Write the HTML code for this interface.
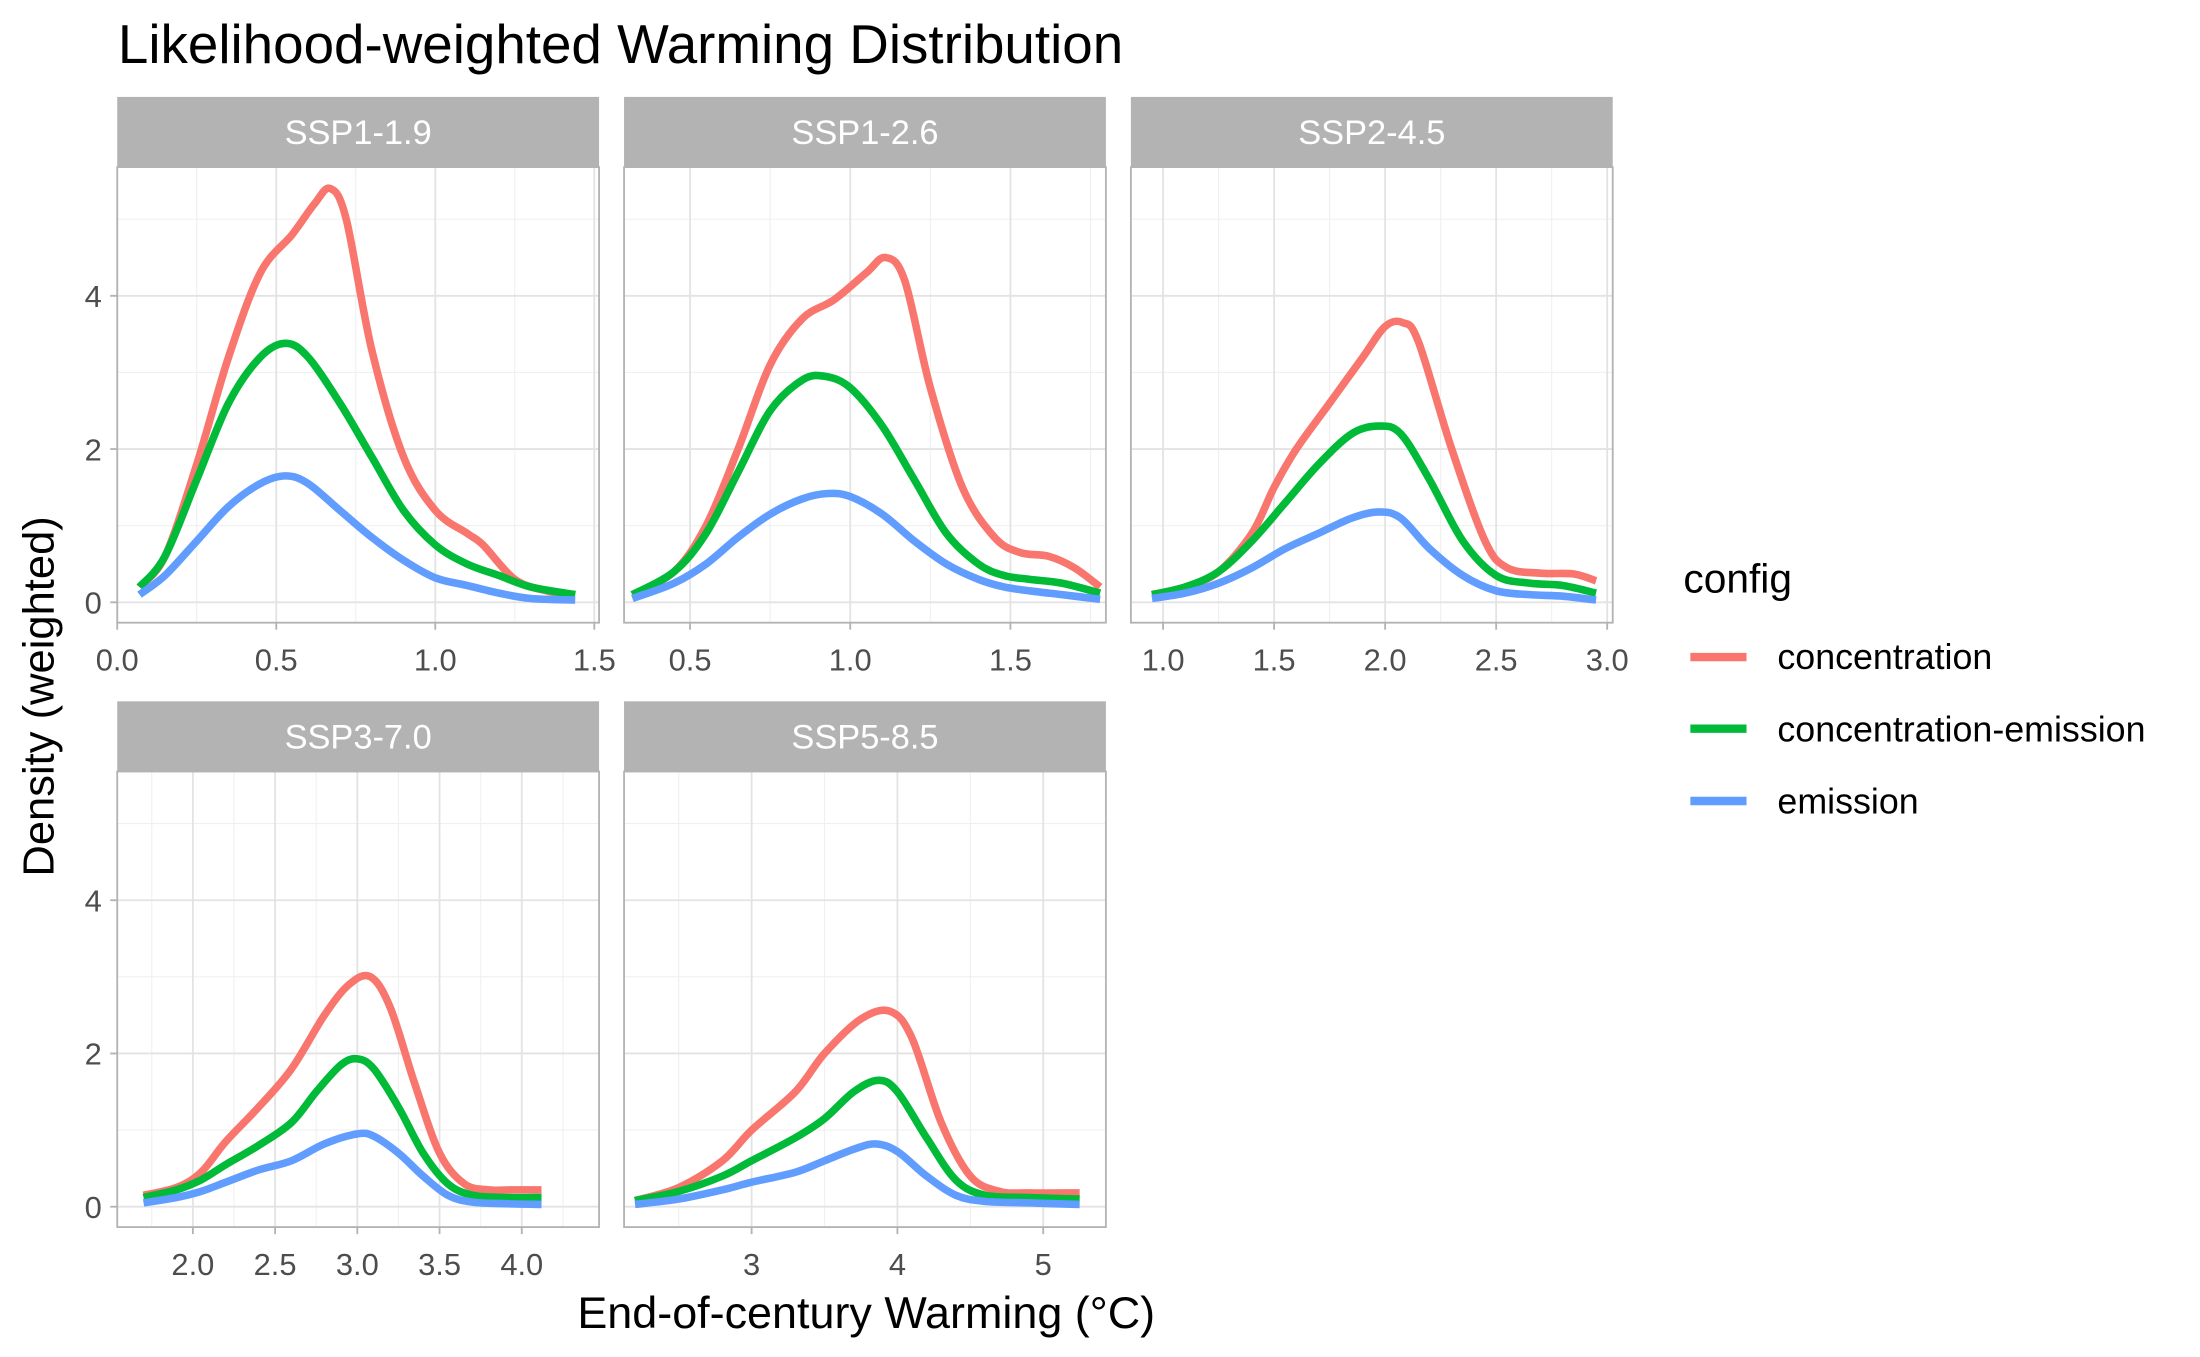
<!DOCTYPE html>
<html><head><meta charset="utf-8"><style>
html,body{margin:0;padding:0;background:#fff;}
svg{display:block;}
text{font-family:"Liberation Sans",Arial,sans-serif;}
</style></head><body>
<svg id="chart" width="2200" height="1357" viewBox="0 0 1567 966.5" xmlns="http://www.w3.org/2000/svg">
<text x="84" y="45" font-size="39" fill="#000">Likelihood-weighted Warming Distribution</text>
<text transform="translate(38,496) rotate(-90)" text-anchor="middle" font-size="31" fill="#000">Density (weighted)</text>
<text x="617" y="946" text-anchor="middle" font-size="32" fill="#000">End-of-century Warming (°C)</text>
<g>
<text x="1199" y="422" font-size="29" fill="#000">config</text>
<line x1="1204" y1="468" x2="1244" y2="468" stroke="#F8766D" stroke-width="6"/>
<text x="1266" y="476.5" font-size="25.5" fill="#000">concentration</text>
<line x1="1204" y1="519" x2="1244" y2="519" stroke="#00BA38" stroke-width="6"/>
<text x="1266" y="528" font-size="25.5" fill="#000">concentration-emission</text>
<line x1="1204" y1="570.5" x2="1244" y2="570.5" stroke="#619CFF" stroke-width="6"/>
<text x="1266" y="579.5" font-size="25.5" fill="#000">emission</text>
</g>
<g id="panels"></g>
</svg>
<script>
const panelNames = ["SSP1-1.9","SSP1-2.6","SSP2-4.5","SSP3-7.0","SSP5-8.5"];
const seriesNames = ["concentration","concentration-emission","emission"];
const xTicks = [[0.0,0.5,1.0,1.5],[0.5,1.0,1.5],[1.0,1.5,2.0,2.5,3.0],[2.0,2.5,3.0,3.5,4.0],[3,4,5]];
const xTickLabels = [["0.0","0.5","1.0","1.5"],["0.5","1.0","1.5"],["1.0","1.5","2.0","2.5","3.0"],["2.0","2.5","3.0","3.5","4.0"],["3","4","5"]];
const xDomains = [[0.0,1.515],[0.294,1.798],[0.855,3.025],[1.54,4.47],[2.125,5.43]];
const yTicks = [0,2,4];
const yTickLabels = ["0","2","4"];
const concX = [
[0.07,0.15,0.25,0.35,0.45,0.55,0.62,0.67,0.72,0.8,0.9,1.0,1.1,1.15,1.25,1.35,1.44],
[0.32,0.45,0.55,0.65,0.75,0.85,0.95,1.05,1.11,1.17,1.25,1.35,1.45,1.53,1.62,1.7,1.78],
[0.95,1.1,1.25,1.4,1.5,1.6,1.75,1.9,2.0,2.08,2.15,2.3,2.45,2.55,2.7,2.85,2.95],
[1.7,1.9,2.05,2.2,2.4,2.6,2.8,2.95,3.08,3.2,3.35,3.5,3.65,3.8,3.95,4.12],
[2.2,2.5,2.8,3.0,3.3,3.5,3.75,3.95,4.1,4.3,4.5,4.7,4.9,5.25]];
const concY = [
[0.2,0.6,1.8,3.2,4.3,4.8,5.2,5.4,5.0,3.3,1.9,1.2,0.9,0.75,0.3,0.15,0.1],
[0.1,0.4,1.0,2.0,3.1,3.7,3.95,4.3,4.5,4.2,2.8,1.5,0.85,0.65,0.6,0.45,0.2],
[0.1,0.2,0.4,0.9,1.5,2.0,2.6,3.2,3.6,3.65,3.4,2.0,0.8,0.45,0.38,0.37,0.28],
[0.15,0.25,0.45,0.85,1.3,1.8,2.5,2.9,3.0,2.6,1.6,0.7,0.3,0.22,0.22,0.22],
[0.08,0.25,0.6,1.0,1.5,2.0,2.45,2.55,2.2,1.1,0.4,0.2,0.18,0.18]];
const ceX = [
[0.07,0.15,0.25,0.35,0.45,0.53,0.6,0.7,0.8,0.9,1.0,1.1,1.2,1.3,1.44],
[0.32,0.45,0.55,0.65,0.75,0.85,0.92,1.0,1.1,1.2,1.3,1.4,1.48,1.56,1.66,1.78],
[0.95,1.1,1.25,1.4,1.55,1.7,1.85,1.97,2.07,2.2,2.35,2.5,2.65,2.8,2.95],
[1.7,1.9,2.05,2.2,2.4,2.6,2.75,2.9,3.0,3.1,3.25,3.4,3.55,3.7,3.9,4.12],
[2.2,2.5,2.8,3.0,3.3,3.5,3.7,3.87,4.0,4.2,4.4,4.6,4.9,5.25]];
const ceY = [
[0.2,0.6,1.6,2.6,3.2,3.38,3.2,2.6,1.9,1.2,0.75,0.5,0.35,0.2,0.1],
[0.1,0.4,0.9,1.7,2.5,2.9,2.95,2.8,2.3,1.6,0.9,0.5,0.35,0.3,0.25,0.12],
[0.1,0.2,0.4,0.8,1.3,1.8,2.2,2.3,2.2,1.6,0.8,0.35,0.25,0.22,0.12],
[0.12,0.22,0.35,0.55,0.8,1.1,1.5,1.85,1.93,1.8,1.3,0.7,0.3,0.15,0.12,0.12],
[0.08,0.2,0.4,0.6,0.9,1.15,1.5,1.65,1.5,0.9,0.35,0.15,0.12,0.1]];
const emX = [
[0.07,0.15,0.25,0.35,0.45,0.53,0.6,0.7,0.8,0.9,1.0,1.1,1.2,1.3,1.44],
[0.32,0.45,0.55,0.65,0.75,0.85,0.93,1.0,1.1,1.2,1.3,1.4,1.48,1.56,1.66,1.78],
[0.95,1.1,1.25,1.4,1.55,1.7,1.85,1.97,2.07,2.2,2.35,2.5,2.65,2.8,2.95],
[1.7,1.9,2.05,2.2,2.4,2.6,2.8,3.0,3.1,3.25,3.4,3.55,3.7,3.9,4.12],
[2.2,2.5,2.8,3.0,3.3,3.5,3.7,3.85,4.0,4.2,4.4,4.6,4.9,5.25]];
const emY = [
[0.1,0.35,0.8,1.25,1.55,1.65,1.55,1.2,0.85,0.55,0.32,0.22,0.12,0.05,0.03],
[0.05,0.25,0.5,0.85,1.15,1.35,1.42,1.38,1.15,0.8,0.5,0.3,0.2,0.15,0.1,0.04],
[0.05,0.12,0.25,0.45,0.7,0.9,1.1,1.18,1.1,0.7,0.35,0.15,0.1,0.08,0.03],
[0.05,0.12,0.2,0.32,0.48,0.6,0.82,0.95,0.92,0.7,0.4,0.15,0.06,0.04,0.03],
[0.03,0.1,0.22,0.32,0.45,0.6,0.75,0.82,0.72,0.4,0.15,0.07,0.05,0.03]];
const colors = ["#F8766D","#00BA38","#619CFF"];
const NS="http://www.w3.org/2000/svg";
const layout=[[83.5,426.7,69],[444.5,787.7,69],[805.5,1148.7,69],[83.5,426.7,499.5],[444.5,787.7,499.5]];
const yDomain=[-0.266,5.68];
const root=document.getElementById('panels');
function mk(tag,attrs,parent){const e=document.createElementNS(NS,tag);for(const k in attrs)e.setAttribute(k,attrs[k]);parent.appendChild(e);return e;}
function pathFrom(pts){let d="M"+pts[0][0]+","+pts[0][1];for(let i=0;i<pts.length-1;i++){const p0=pts[Math.max(0,i-1)],p1=pts[i],p2=pts[i+1],p3=pts[Math.min(pts.length-1,i+2)];const c1=[p1[0]+(p2[0]-p0[0])/6,p1[1]+(p2[1]-p0[1])/6],c2=[p2[0]-(p3[0]-p1[0])/6,p2[1]-(p3[1]-p1[1])/6];d+=" C"+c1[0]+","+c1[1]+" "+c2[0]+","+c2[1]+" "+p2[0]+","+p2[1];}return d;}
panelNames.forEach((name,i)=>{
const [L,R,T]=layout[i];const st=T+50,B=T+374.5;
const g=mk('g',{},root);


const xs=v=>L+(v-xDomains[i][0])/(xDomains[i][1]-xDomains[i][0])*(R-L);
const ys=v=>B-(v-yDomain[0])/(yDomain[1]-yDomain[0])*(B-st);
const strip=mk('rect',{x:L,y:T,width:R-L,height:50,fill:"#b3b3b3"},g);


const stt=mk('text',{x:(L+R)/2,y:T+33.5,'text-anchor':'middle','font-size':24.5,fill:'#fff'},g);stt.textContent=name;


const clip=mk('clipPath',{id:'c'+i},g);mk('rect',{x:L,y:st,width:R-L,height:B-st},clip);
const grid=mk('g',{'clip-path':'url(#c'+i+')'},g);
[1,3,5].forEach(v=>mk('line',{x1:L,x2:R,y1:ys(v),y2:ys(v),stroke:'#f0f0f0','stroke-width':0.8},grid));
const xt=xTicks[i];const step=xt[1]-xt[0];
for(let v=xt[0]-step/2;v<xDomains[i][1];v+=step){mk('line',{x1:xs(v),x2:xs(v),y1:st,y2:B,stroke:'#f0f0f0','stroke-width':0.8},grid);}
yTicks.forEach(v=>mk('line',{x1:L,x2:R,y1:ys(v),y2:ys(v),stroke:'#e3e3e3','stroke-width':1.3},grid));
xt.forEach(v=>mk('line',{x1:xs(v),x2:xs(v),y1:st,y2:B,stroke:'#e3e3e3','stroke-width':1.3},grid));
const series=[[concX[i],concY[i]],[ceX[i],ceY[i]],[emX[i],emY[i]]];
series.forEach((s,k)=>{const pts=s[0].map((x,j)=>[xs(x),ys(s[1][j])]);
const p=mk('path',{d:pathFrom(pts),fill:'none',stroke:colors[k],'stroke-width':5.4,'stroke-linejoin':'round'},grid);

});
mk('rect',{x:L,y:st,width:R-L,height:B-st,fill:'none',stroke:'#b3b3b3','stroke-width':1.3},g);
xt.forEach((v,j)=>{mk('line',{x1:xs(v),x2:xs(v),y1:B,y2:B+5,stroke:'#b3b3b3','stroke-width':1.3},g);
const t=mk('text',{x:xs(v),y:B+34,'text-anchor':'middle','font-size':22,fill:'#4d4d4d'},g);t.textContent=xTickLabels[i][j];

});
if(L<100){yTicks.forEach((v,j)=>{mk('line',{x1:L-5,x2:L,y1:ys(v),y2:ys(v),stroke:'#b3b3b3','stroke-width':1.3},g);
const t=mk('text',{x:L-11,y:ys(v)+8,'text-anchor':'end','font-size':22,fill:'#4d4d4d'},g);t.textContent=yTickLabels[j];

});}
});
</script>
</body></html>
